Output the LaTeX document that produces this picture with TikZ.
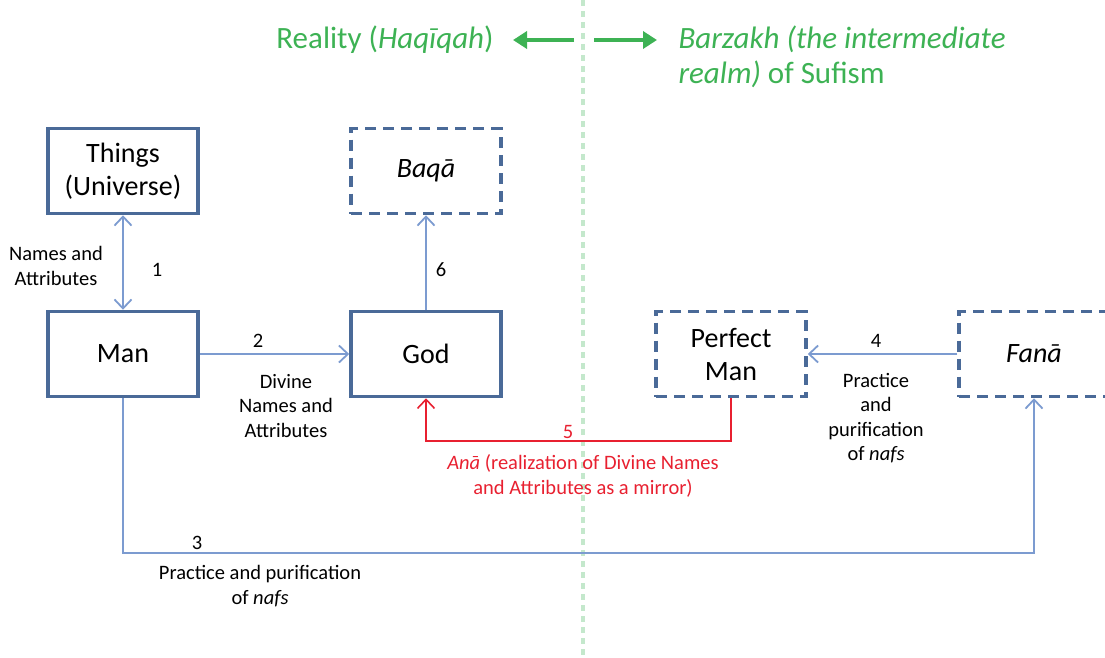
\documentclass[tikz,border=0pt]{standalone}
\usepackage{fontspec}
\setmainfont{Carlito}
\usetikzlibrary{arrows.meta}
\definecolor{boxblue}{RGB}{74,106,152}
\definecolor{lineblue}{RGB}{124,155,208}
\definecolor{sufigreen}{RGB}{61,178,84}
\definecolor{dotgreen}{RGB}{196,232,204}
\definecolor{anared}{RGB}{232,32,48}

\begin{document}
\begin{tikzpicture}[x=1pt, y=-1pt, >={Straight Barb[length=9pt,width=17pt]},
	box/.style={draw=boxblue, line width=3.5pt, minimum width=150pt, minimum height=85pt,
		align=center, font=\fontsize{28}{33}\selectfont},
	dbox/.style={box, dash pattern=on 11pt off 7pt},
	link/.style={draw=lineblue, line width=1.8pt, ->},
	lbl/.style={font=\fontsize{20.5}{24.5}\selectfont, align=center},
	head/.style={font=\fontsize{31}{35}\selectfont, text=sufigreen}]
\useasboundingbox (0,0) rectangle (1105,657);
\draw[dotgreen, line width=4pt, dash pattern=on 6pt off 5pt] (583,0) -- (583,657);
% header
\node[head] (reality) at (385,40) {Reality (\textit{Haqīqah})};
\node[head, anchor=west, align=left] (barzakh) at (675,57) {\textit{Barzakh (the intermediate}\\\textit{realm)} of Sufism};
\coordinate (lstart) at (574,40);
\coordinate (ltip) at (513,40);
\coordinate (rstart) at (594,40);
\coordinate (rtip) at (657,40);
\draw[sufigreen, line width=4pt, -{Triangle[length=14pt,width=17pt]}] (lstart) -- (ltip);
\draw[sufigreen, line width=4pt, -{Triangle[length=14pt,width=17pt]}] (rstart) -- (rtip);
% boxes
\node[box] (things) at (123,171) {Things\\(Universe)};
\node[dbox] (baqa) at (426,171) {\textit{Baqā}};
\node[box] (man) at (123,354) {Man};
\node[box] (god) at (426,354) {God};
\node[dbox] (perfect) at (731,354) {Perfect\\Man};
\node[dbox] (fana) at (1034,354) {\textit{Fanā}};
% links
\draw[link, <->] (things) -- (man);
\draw[link] (man) -- (god);
\draw[link] (god) -- (baqa);
\draw[link] (fana) -- (perfect);
\draw[link] (man.south) -- ++(0,155) -| (fana.south);
\draw[anared, line width=1.6pt, ->] (perfect.south) -- ++(0,43) -| (god.south);
% labels
\node[lbl] (names) at (56,266) {Names and\\Attributes};
\node[lbl] (one) at (157,270) {1};
\node[lbl] (two) at (258,341) {2};
\node[lbl] (divine) at (286,406) {Divine\\Names and\\Attributes};
\node[lbl] (six) at (441,270) {6};
\node[lbl] (four) at (876,341) {4};
\node[lbl] (practice) at (876,418) {Practice\\and\\purification\\of \textit{nafs}};
\node[lbl, text=anared] (five) at (568,432) {5};
\node[lbl, text=anared] (ana) at (583,476) {\textit{Anā} (realization of Divine Names\\and Attributes as a mirror)};
\node[lbl] (three) at (197,543) {3};
\node[lbl] (purify) at (260,586) {Practice and purification\\of \textit{nafs}};
\end{tikzpicture}
\end{document}
